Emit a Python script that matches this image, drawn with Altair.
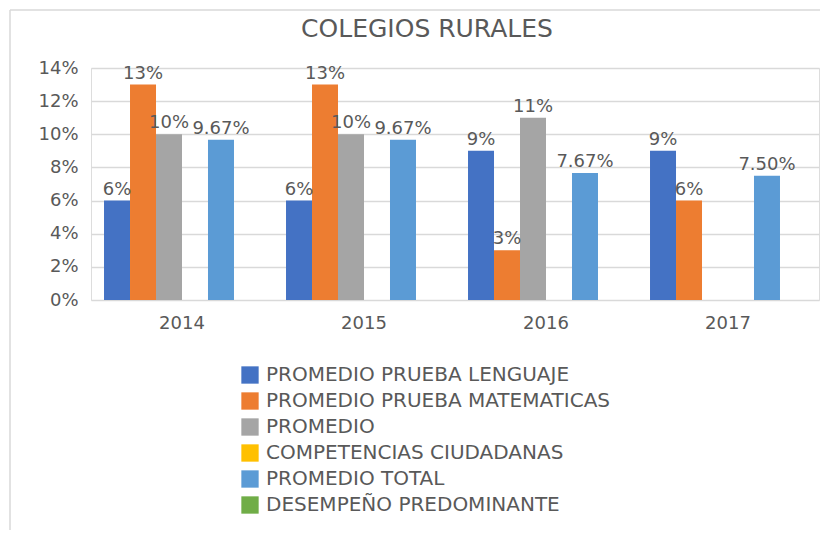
import altair as alt
import pandas as pd

years = ["2014", "2015", "2016", "2017"]
series = [
    "PROMEDIO PRUEBA LENGUAJE",
    "PROMEDIO PRUEBA MATEMATICAS",
    "PROMEDIO",
    "COMPETENCIAS CIUDADANAS",
    "PROMEDIO TOTAL",
    "DESEMPEÑO PREDOMINANTE",
]
colors = ["#4472C4", "#ED7D31", "#A5A5A5", "#FFC000", "#5B9BD5", "#70AD47"]

lenguaje = [6, 6, 9, 9]
matematicas = [13, 13, 3, 6]
promedio = [10, 10, 11, None]
total = [9.67, 9.67, 7.67, 7.50]
total_labels = ["9.67%", "9.67%", "7.67%", "7.50%"]
title_text = "COLEGIOS RURALES"

rows = []
for i, y in enumerate(years):
    for s, vals in [(series[0], lenguaje), (series[1], matematicas), (series[2], promedio)]:
        v = vals[i]
        if v is not None:
            rows.append({"year": y, "serie": s, "value": v / 100, "label": f"{v:g}%"})
    rows.append({"year": y, "serie": series[4], "value": total[i] / 100, "label": total_labels[i]})
df = pd.DataFrame(rows)

FONT = "DejaVu Sans"
GRAY = "#595959"

x = alt.X("year:N", sort=years, scale=alt.Scale(paddingInner=0.143, paddingOuter=0.0715),
          axis=alt.Axis(title=None, labelAngle=0, ticks=False, domain=False, grid=False,
                        labelFontSize=18, labelColor=GRAY, labelFont=FONT, labelPadding=14))
xo = alt.XOffset("serie:N", sort=series, scale=alt.Scale(domain=series, paddingInner=0, paddingOuter=0))
y = alt.Y("value:Q", scale=alt.Scale(domain=[0, 0.14], nice=False),
          axis=alt.Axis(title=None, format=".0%", values=[0, 0.02, 0.04, 0.06, 0.08, 0.10, 0.12, 0.14],
                        ticks=False, domain=False, grid=True, gridColor="#D9D9D9", gridWidth=1.3,
                        labelFontSize=18, labelColor=GRAY, labelFont=FONT, labelPadding=13))

bars = alt.Chart(df).mark_bar().encode(
    x=x, xOffset=xo, y=y,
    color=alt.Color("serie:N", scale=alt.Scale(domain=series, range=colors), sort=series,
                    legend=alt.Legend(title=None, orient="none", legendX=149, legendY=297,
                                      direction="vertical", symbolType="square", symbolSize=300,
                                      symbolStrokeWidth=0, labelFontSize=20, labelFont=FONT,
                                      labelColor=GRAY, labelLimit=600, rowPadding=6, labelOffset=6)),
)

texts = alt.Chart(df).mark_text(baseline="bottom", dy=-2, fontSize=18, font=FONT, color=GRAY).encode(
    x=x, xOffset=xo, y=y, text="label:N"
)

one = pd.DataFrame({"t": [title_text]})
title = alt.Chart(one).mark_text(fontSize=25, font=FONT, color=GRAY, baseline="alphabetic",
                                 align="center").encode(
    x=alt.value(336), y=alt.value(-31), text="t:N"
)
top_line = alt.Chart(one).mark_rule(color="#D9D9D9", strokeWidth=1.5).encode(
    x=alt.value(-81), x2=alt.value(740), y=alt.value(-58)
)
left_line = alt.Chart(one).mark_rule(color="#D9D9D9", strokeWidth=1.5).encode(
    x=alt.value(-81), y=alt.value(-58), y2=alt.value(470)
)

chart = alt.layer(bars, texts, title, top_line, left_line).properties(
    width=728, height=232,
    autosize=alt.AutoSizeParams(type="none"),
    padding={"left": 83, "top": 60, "right": 1, "bottom": 230},
).configure_view(stroke=None).configure(background="white")

chart.save("out.html", embed_options={"renderer": "svg", "actions": False})
